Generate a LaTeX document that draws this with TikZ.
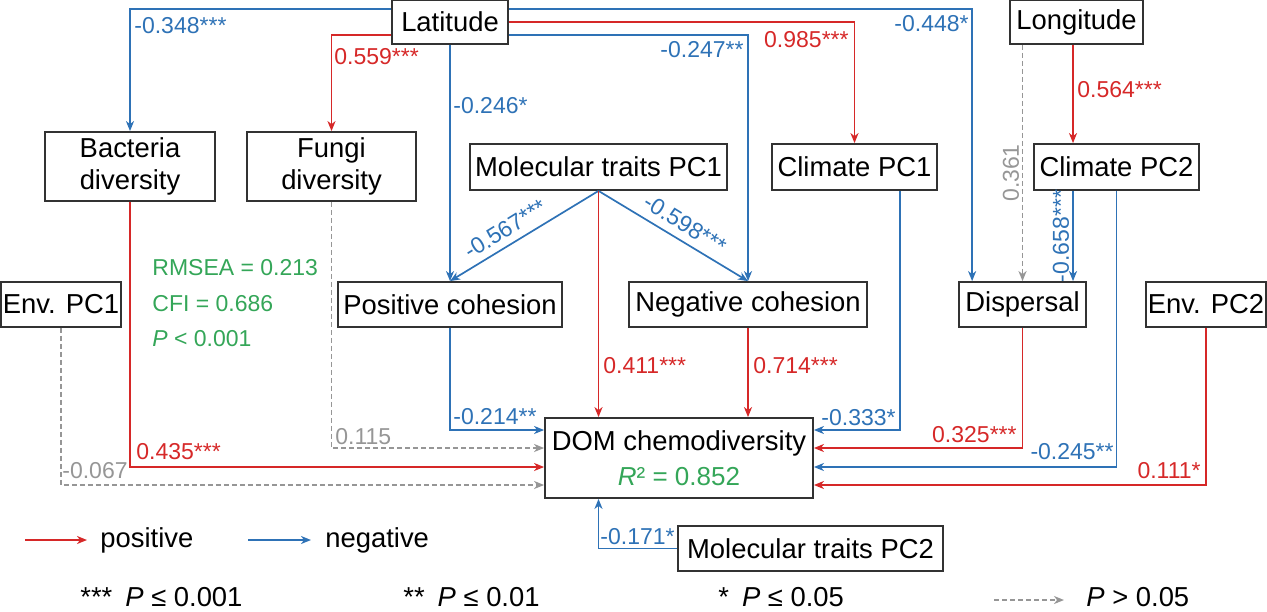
\documentclass[tikz,border=0pt]{standalone}
\usepackage{fontspec}
\setmainfont{Liberation Sans}
\usetikzlibrary{arrows.meta}

\definecolor{posred}{RGB}{214,40,40}
\definecolor{negblu}{RGB}{46,114,182}
\definecolor{nsgray}{RGB}{150,150,150}
\definecolor{statgrn}{RGB}{52,166,88}
\definecolor{boxgray}{RGB}{50,50,50}

\tikzset{
  box/.style={draw=boxgray,line width=0.9pt,fill=white,inner sep=0pt,align=center,font=\fontsize{13.7}{16}\selectfont},
  posarr/.style={draw=posred,line width=0.85pt,->},
  negarr/.style={draw=negblu,line width=0.85pt,->},
  nsarr/.style={draw=nsgray,line width=0.85pt,dash pattern=on 2.5pt off 1.5pt,->},
  lbl/.style={inner sep=0pt,font=\fontsize{11.5}{13}\selectfont},
  poslbl/.style={lbl,text=posred},
  neglbl/.style={lbl,text=negblu},
  nslbl/.style={lbl,text=nsgray},
  legtxt/.style={inner sep=0pt,font=\fontsize{13.7}{16}\selectfont},
}

\begin{document}
\begin{tikzpicture}[x=0.5pt,y=-0.5pt,>={Stealth[length=5pt,width=4pt,inset=1.5pt]}]
\useasboundingbox (0,0) rectangle (1267,611);

\node[box,minimum width=58pt,minimum height=22pt] (lat) at (450,22) {Latitude};
\node[box,minimum width=66.5pt,minimum height=22pt] (lon) at (1076.5,22) {Longitude};
\node[box,minimum width=85pt,minimum height=34.5pt] (bac) at (130,166.5) {Bacteria\\diversity};
\node[box,minimum width=84.5pt,minimum height=34.5pt] (fun) at (331.5,166.5) {Fungi\\diversity};
\node[box,minimum width=128.5pt,minimum height=23pt] (mt1) at (598.5,167) {Molecular traits PC1};
\node[box,minimum width=82.5pt,minimum height=23pt] (cl1) at (854.5,167) {Climate PC1};
\node[box,minimum width=82.5pt,minimum height=23pt] (cl2) at (1116.5,167) {Climate PC2};
\node[box,minimum width=60pt,minimum height=22.5pt] (ep1) at (61,304.5) {Env. PC1};
\node[box,minimum width=112pt,minimum height=22.5pt] (pco) at (450,304.5) {Positive cohesion};
\node[box,minimum width=119pt,minimum height=22.5pt] (nco) at (748,304.5) {Negative cohesion};
\node[box,minimum width=63.5pt,minimum height=22.5pt] (dis) at (1022.5,304.5) {Dispersal};
\node[box,minimum width=60pt,minimum height=22.5pt] (ep2) at (1206,304.5) {Env. PC2};
\node[box,minimum width=134pt,minimum height=40pt,font=\fontsize{13.7}{17.5}\selectfont] (dom) at (679,458)
  {DOM chemodiversity\\{\color{statgrn}\fontsize{13}{17.5}\selectfont\textit{R}² = 0.852}};
\node[box,minimum width=132.5pt,minimum height=22.5pt] (mt2) at (810.5,548.5) {Molecular traits PC2};

\draw[negarr] (lat.west |- 0,9) -| (bac);
\draw[posarr] (lat.west |- 0,35) -| (fun);
\draw[negarr] (lat) -- (pco);
\draw[negarr] (lat.east |- 0,35) -| (nco);
\draw[posarr] (lat.east |- 0,22) -| (cl1);
\draw[negarr] (lat.east |- 0,9) -| ([xshift=7pt]dis.north west);
\draw[posarr] (lon.south -| 1073,0) -- (cl2.north -| 1073,0);
\draw[nsarr] (lon.south -| dis) -- (dis);
\draw[negarr] (cl2.south -| 1073,0) -- (dis.north -| 1073,0);
\draw[negarr] (mt1.south) -- (pco.north);
\draw[negarr] (mt1.south) -- (nco.north);
\draw[posarr] (mt1) -- (mt1 |- dom.north);
\draw[posarr] (nco) -- (nco |- dom.north);
\draw[negarr] (pco) |- (dom.west |- 0,430);
\draw[nsarr] (fun) |- (dom.west |- 0,448);
\draw[posarr] (bac) |- (dom.west |- 0,467);
\draw[nsarr] (ep1) |- (dom.west |- 0,485);
\draw[negarr] (cl1.south -| 900,0) |- (dom.east |- 0,430);
\draw[posarr] (dis) |- (dom.east |- 0,448);
\draw[negarr] (cl2) |- (dom.east |- 0,467);
\draw[posarr] (ep2) |- (dom.east |- 0,485);
\draw[negarr] (mt2) -| (dom.south -| mt1);

\node[neglbl,anchor=west] (w348) at (134,26) {-0.348***};
\node[poslbl,anchor=west] (w559) at (334,57) {0.559***};
\node[neglbl,anchor=west] (w246) at (453,106) {-0.246*};
\node[neglbl,anchor=east] (w247) at (744,50) {-0.247**};
\node[poslbl,anchor=east] (w985) at (849,40) {0.985***};
\node[neglbl,anchor=east] (w448) at (969,24) {-0.448*};
\node[poslbl,anchor=west] (w564) at (1077,90) {0.564***};
\node[nslbl,rotate=90] (w361) at (1011,173) {0.361};
\node[neglbl,rotate=90] (w658) at (1061,236) {-0.658***};
\node[neglbl,rotate=31.7] (w567) at (505,229) {-0.567***};
\node[neglbl,rotate=-31.7] (w598) at (685,224) {-0.598***};
\node[poslbl,anchor=west] (w411) at (603,366) {0.411***};
\node[poslbl,anchor=west] (w714) at (753,366) {0.714***};
\node[neglbl,anchor=west] (w214) at (453,417) {-0.214**};
\node[neglbl,anchor=west] (w333) at (821,418) {-0.333*};
\node[poslbl,anchor=east] (w325) at (1017,435) {0.325***};
\node[neglbl,anchor=east] (w245) at (1114,452) {-0.245**};
\node[poslbl,anchor=east] (w111) at (1201,471) {0.111*};
\node[poslbl,anchor=west] (w435) at (136,452) {0.435***};
\node[nslbl,anchor=west] (w115) at (335,437) {0.115};
\node[nslbl,anchor=west] (w067) at (62,471) {-0.067};
\node[neglbl,anchor=west] (w171) at (600,537) {-0.171*};

\node[lbl,text=statgrn,anchor=west,align=left,font=\fontsize{11.5}{17.75}\selectfont] (fit) at (152,303.5)
  {RMSEA = 0.213\\CFI = 0.686\\\textit{P} < 0.001};

\coordinate (apos) at (25,540);
\node[legtxt,anchor=west] (tpos) at (100,540) {positive};
\draw[posarr] (apos) -- ([xshift=-6.5pt]tpos.west);
\coordinate (aneg) at (248,540);
\node[legtxt,anchor=west] (tneg) at (325,540) {negative};
\draw[negarr] (aneg) -- ([xshift=-7pt]tneg.west);

\node[legtxt,anchor=west] (s3) at (80,597) {***\hspace{6.5pt}\textit{P} ≤ 0.001};
\node[legtxt,anchor=west] (s2) at (403,597) {**\hspace{6.5pt}\textit{P} ≤ 0.01};
\node[legtxt,anchor=west] (s1) at (718,597) {*\hspace{6.5pt}\textit{P} ≤ 0.05};
\coordinate (ans) at (994,600);
\node[legtxt,anchor=west] (tns) at (1086,597) {\textit{P} > 0.05};
\draw[nsarr] (ans) -- ([xshift=-11pt]tns.west |- ans);
\end{tikzpicture}
\end{document}
